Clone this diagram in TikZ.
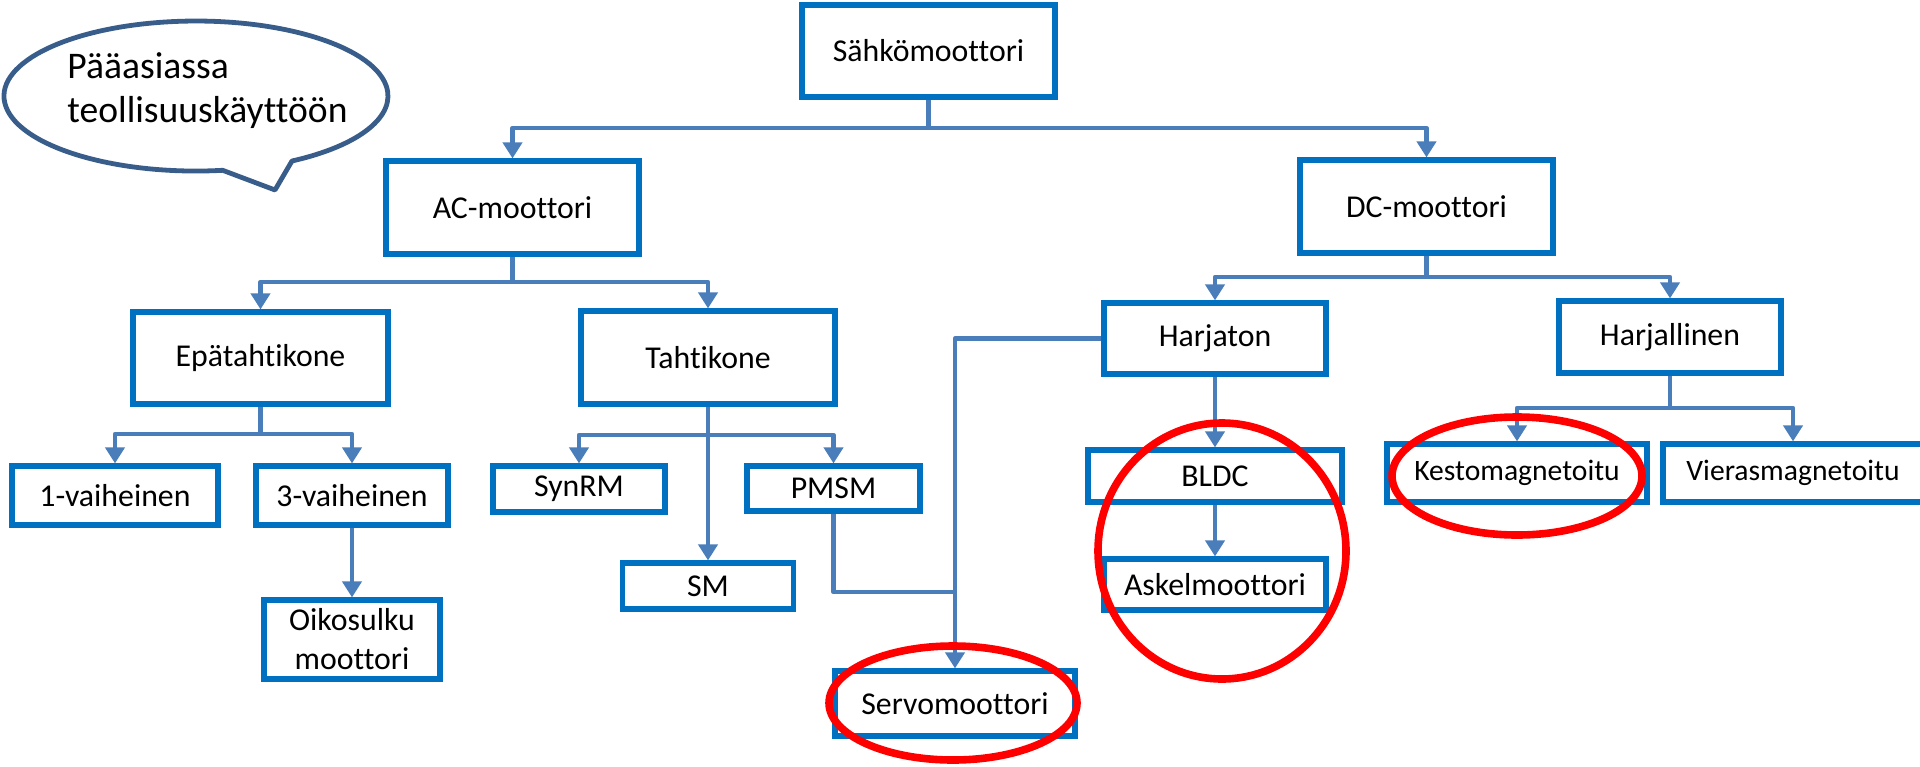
\documentclass[tikz,border=0pt]{standalone}
\usepackage{fontspec}
\setmainfont{Carlito}[Ligatures={NoCommon}]
\usetikzlibrary{arrows.meta}
\definecolor{boxblue}{HTML}{0070C0}
\definecolor{linkblue}{HTML}{4A7EBB}
\definecolor{bubbleblue}{HTML}{385D8A}
\definecolor{hilite}{HTML}{FF0000}
\begin{document}
\begin{tikzpicture}[x=0.5pt,y=-0.5pt,
  mbox/.style={draw=boxblue, line width=2.6pt, fill=white, inner sep=0pt, text=black,
    font=\fontsize{15.9}{19.5}\selectfont, align=center},
  sbox/.style={mbox, font=\fontsize{14.8}{18}\selectfont},
  wh/.style 2 args={minimum width=#1*0.5pt, minimum height=#2*0.5pt},
  conn/.style={draw=linkblue, line width=2.4pt, line join=round},
  arr/.style={conn, -{Triangle[width=9.5pt,length=8pt]}},
  ring/.style={draw=hilite, line width=3.8pt},
  bubble/.style={draw=bubbleblue, line width=2.4pt, fill=white, line join=round},
  bubtext/.style={anchor=base west, inner sep=0pt, font=\fontsize{18.8}{22}\selectfont}
]
\useasboundingbox (0,0) rectangle (1920,766);

% speech bubble
\draw[bubble] (222.7,170.3) arc[start angle=82, end angle=420, x radius=192, y radius=75] -- (275,190) -- cycle;
\node[bubtext] (bub1) at (67,78) {Pääasiassa};
\node[bubtext] (bub2) at (67,122) {teollisuuskäyttöön};

% boxes
\node[mbox, wh={253}{92}] (sahko) at (928.5,51) {Sähkömoottori};
\node[mbox, wh={253}{93}] (ac) at (512.5,207.5) {AC-moottori};
\node[mbox, wh={253}{93}] (dc) at (1426.5,206.5) {DC-moottori};
\node[mbox, wh={255}{92}] (epa) at (260.5,358) {Epätahtikone};
\node[mbox, wh={254}{93}] (tahti) at (708,357.5) {Tahtikone};
\node[mbox, wh={206}{59}] (v1) at (115,495.5) {1-vaiheinen};
\node[mbox, wh={192}{59}] (v3) at (352,495.5) {3-vaiheinen};
\node[mbox, wh={176}{79}] (oiko) at (352,639.5) {Oikosulku\\moottori};
\node[mbox, wh={172}{46}] (synrm) at (579,489) {SynRM};
\node[mbox, wh={173}{45}] (pmsm) at (833.5,488.5) {PMSM};
\node[mbox, wh={171}{46}] (sm) at (708,586) {SM};
\node[mbox, wh={240}{65}] (servo) at (955,703.5) {Servomoottori};
\node[mbox, wh={222}{71}] (harjaton) at (1215,338.5) {Harjaton};
\node[mbox, wh={222}{72}] (harjallinen) at (1670,337) {Harjallinen};
\node[mbox, wh={254}{52}] (bldc) at (1215,476) {BLDC};
\node[mbox, wh={222}{51}] (askel) at (1215,584.5) {Askelmoottori};
\node[sbox, wh={260}{58}] (kesto) at (1517,473) {Kestomagnetoitu};
\node[sbox, wh={260}{58}] (viera) at (1793,473) {Vierasmagnetoitu};

% bus levels
\coordinate (bus0) at (0,128);
\coordinate (bus1) at (0,282);
\coordinate (bus2) at (0,277);
\coordinate (bus3) at (0,434);
\coordinate (bus4) at (0,435);
\coordinate (bus5) at (0,408);
\coordinate (bus6) at (0,592);

% connectors
\draw[arr] (sahko.south) -- (sahko.south |- bus0) -| (ac.north);
\draw[arr] (sahko.south) -- (sahko.south |- bus0) -| (dc.north);
\draw[arr] (ac.south) -- (ac.south |- bus1) -| (epa.north);
\draw[arr] (ac.south) -- (ac.south |- bus1) -| (tahti.north);
\draw[arr] (epa.south) -- (epa.south |- bus3) -| (v1.north);
\draw[arr] (epa.south) -- (epa.south |- bus3) -| (v3.north);
\draw[arr] (v3.south) -- (oiko.north);
\draw[arr] (tahti.south) -- (tahti.south |- bus4) -| (synrm.north);
\draw[arr] (tahti.south) -- (tahti.south |- bus4) -| (pmsm.north);
\draw[arr] (tahti.south) -- (sm.north);
\draw[conn] (pmsm.south) |- (servo.north |- bus6);
\draw[arr] (harjaton.west) -| (servo.north);
\draw[arr] (dc.south) -- (dc.south |- bus2) -| (harjaton.north);
\draw[arr] (dc.south) -- (dc.south |- bus2) -| (harjallinen.north);
\draw[arr] (harjaton.south) -- (bldc.north);
\draw[arr] (bldc.south) -- (askel.north);
\draw[arr] (harjallinen.south) -- (harjallinen.south |- bus5) -| (kesto.north);
\draw[arr] (harjallinen.south) -- (harjallinen.south |- bus5) -| (viera.north);

% highlight rings
\draw[ring] (953,703) ellipse[x radius=124, y radius=57];
\draw[ring] (1222,551) ellipse[x radius=124, y radius=128];
\draw[ring] (1517,476) ellipse[x radius=125, y radius=59];
\end{tikzpicture}
\end{document}
